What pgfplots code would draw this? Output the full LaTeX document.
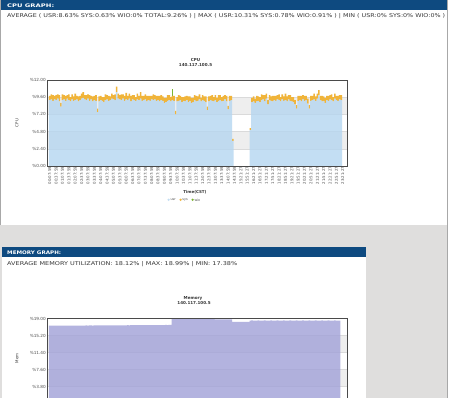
\documentclass[border=0pt]{standalone}
\usepackage{pgfplots}
\pgfplotsset{compat=1.18}
\usepackage{pgfplotstable}
\usepackage{fontspec}
\setmainfont{DejaVu Sans}
\usepackage{graphicx}

\definecolor{hdrblue}{HTML}{0E4A80}
\definecolor{pagegray}{HTML}{DFDEDD}
\definecolor{bordergray}{HTML}{A8A8A8}
\definecolor{txt}{HTML}{383838}
\definecolor{tickc}{HTML}{505050}
\definecolor{bandc}{HTML}{EEEEEE}
\definecolor{gridc}{HTML}{DADADA}
\definecolor{axframe}{HTML}{4A4A4A}
\definecolor{cpuusr}{HTML}{B5D6F0}
\definecolor{cpusys}{HTML}{F0B43A}
\definecolor{cpuwio}{HTML}{7DB532}
\definecolor{memc}{HTML}{A1A1D8}

\newcommand{\fs}[1]{\fontsize{#1}{#1}\selectfont}

\pgfplotsset{
  dotlegend/.style={legend image code/.code={\fill[##1] (0pt,0.9pt) circle (1.25pt);}},
}

\pgfplotstableread{
u s w
9.2 0.6 0
9.3 0.7 0
9.1 0.8 0
9.3 0.5 0
9.2 0.7 0
9.4 0.6 0
9.0 0.9 0
8.3 0.5 0
9.2 0.8 0
9.3 0.6 0
9.1 0.7 0
9.4 0.5 0
9.2 0.8 0
9.0 0.6 0
9.3 0.7 0
9.1 0.6 0
9.2 0.9 0
9.3 0.5 0
9.0 0.7 0
9.2 0.6 0
9.4 0.7 0
9.5 0.8 0
9.3 0.6 0
9.2 0.7 0
9.4 0.6 0
9.1 0.8 0
9.3 0.5 0
9.0 0.7 0
9.2 0.6 0
9.1 0.8 0
7.5 0.5 0
9.0 0.7 0
9.2 0.6 0
9.1 0.5 0
8.9 0.7 0
9.2 0.8 0
9.3 0.6 0
9.1 0.7 0
9.2 0.5 0
9.4 0.7 0
9.3 0.6 0
9.2 0.8 0
10.31 0.75 0
9.4 0.7 0
9.3 0.6 0
9.2 0.8 0
9.4 0.6 0
9.1 0.7 0
9.3 0.9 0
9.2 0.6 0
9.4 0.7 0
9.0 0.8 0
9.3 0.6 0
9.2 0.7 0
9.1 0.5 0
9.3 0.8 0
9.2 0.6 0
9.4 0.9 0
9.1 0.7 0
9.2 0.6 0
9.3 0.7 0
9.0 0.8 0
9.2 0.6 0
9.1 0.7 0
9.3 0.5 0
9.2 0.8 0
9.3 0.6 0
9.1 0.7 0
9.2 0.6 0
9.0 0.8 0
9.2 0.7 0
9.1 0.6 0
8.8 0.7 0
8.9 0.6 0
9.1 0.8 0
9.2 0.7 0
9.0 0.6 0
9.2 0.6 0.91
9.1 0.7 0
7.2 0.5 0
9.0 0.6 0
9.1 0.8 0
9.2 0.6 0
8.9 0.7 0
9.1 0.5 0
9.0 0.7 0
9.2 0.6 0
8.9 0.8 0
9.1 0.6 0
8.8 0.7 0
8.9 0.6 0
9.2 0.7 0
9.0 0.8 0
9.1 0.6 0
9.3 0.7 0
9.0 0.5 0
9.2 0.7 0
9.1 0.6 0
8.9 0.8 0
7.8 0.5 0
9.0 0.7 0
9.2 0.6 0
9.1 0.8 0
9.0 0.6 0
9.2 0.7 0
8.9 0.6 0
9.1 0.8 0
9.2 0.7 0
9.0 0.6 0
9.1 0.7 0
9.3 0.6 0
9.0 0.8 0
7.9 0.5 0
9.1 0.7 0
9.2 0.6 0
3.5 0.3 0
0 0 0
0 0 0
0 0 0
0 0 0
0 0 0
0 0 0
0 0 0
0 0 0
0 0 0
0 0 0
5.0 0.3 0
8.9 0.6 0
9.0 0.7 0
8.8 0.6 0
9.0 0.8 0
9.1 0.6 0
8.9 0.7 0
9.2 0.8 0
9.3 0.6 0
9.0 0.9 0
9.4 0.7 0
8.6 0.6 0
9.2 0.7 0
9.1 0.6 0
9.0 0.8 0
9.2 0.6 0
9.1 0.7 0
9.3 0.6 0
9.2 0.8 0
9.0 0.6 0
9.3 0.7 0
9.1 0.6 0
9.2 0.9 0
9.0 0.7 0
9.3 0.6 0
9.1 0.8 0
9.0 0.6 0
8.9 0.7 0
8.6 0.6 0
8.0 0.5 0
9.1 0.7 0
9.2 0.6 0
9.0 0.8 0
9.3 0.6 0
9.1 0.7 0
9.2 0.6 0
8.7 0.7 0
8.0 0.5 0
9.1 0.7 0
9.2 0.6 0
9.3 0.8 0
9.1 0.6 0
9.4 0.7 0
9.9 0.7 0
9.2 0.6 0
9.0 0.8 0
9.1 0.6 0
8.8 0.7 0
9.2 0.6 0
9.1 0.7 0
9.3 0.6 0
9.2 0.8 0
9.0 0.6 0
9.4 0.7 0
9.2 0.6 0
9.1 0.7 0
9.3 0.6 0
9.2 0.7 0
}\cpudata

\pgfplotstableread{
m
17.38
17.38
17.39
17.38
17.40
17.39
17.40
17.40
17.41
17.40
17.41
17.40
17.41
17.42
17.41
17.42
17.42
17.42
17.43
17.42
17.43
17.42
17.43
17.44
17.43
17.44
17.44
17.43
17.44
17.45
17.44
17.45
17.45
17.44
17.45
17.46
17.45
17.46
17.46
17.45
17.46
17.47
17.46
17.47
17.47
17.48
17.47
17.48
17.48
17.49
17.48
17.49
17.49
17.50
17.49
17.50
17.50
17.51
17.50
17.51
17.51
17.52
17.51
17.52
17.52
17.53
17.52
17.53
17.53
17.54
17.53
17.54
17.54
17.55
17.54
17.55
17.55
18.99
18.98
18.99
18.97
18.98
18.99
18.97
18.98
18.96
18.98
18.97
18.99
18.96
18.97
18.98
18.96
18.97
18.95
18.97
18.96
18.98
18.95
18.96
18.97
18.95
18.96
18.95
18.80
18.79
18.80
18.81
18.80
18.79
18.80
18.81
18.80
18.79
18.80
18.25
18.24
18.25
18.26
18.25
18.24
18.25
18.26
18.25
18.24
18.25
18.55
18.56
18.55
18.54
18.55
18.56
18.55
18.54
18.55
18.56
18.55
18.54
18.55
18.56
18.55
18.54
18.55
18.56
18.55
18.54
18.55
18.56
18.55
18.54
18.55
18.56
18.55
18.54
18.55
18.56
18.55
18.54
18.55
18.56
18.55
18.54
18.55
18.56
18.55
18.54
18.55
18.56
18.55
18.54
18.55
18.56
18.55
18.54
18.55
18.56
18.55
18.54
18.55
18.56
18.55
18.54
18.55
}\memdata

\begin{document}
\begin{tikzpicture}[x=1pt,y=1pt]
\fill[white] (0,0) rectangle (450,398);
% page gray
\fill[pagegray] (0,0) rectangle (447,173);
\draw[bordergray, line width=0.8pt] (0.4,173) -- (0.4,398);
\draw[bordergray, line width=1pt] (447.5,0) -- (447.5,398);
% CPU header
\fill[hdrblue] (0.8,387.5) rectangle (447,398);
\node[anchor=west, text=white, inner sep=0] at (7,392.7) {\resizebox{47pt}{3.6pt}{\bfseries CPU GRAPH:}};
\node[anchor=west, text=txt, inner sep=0] at (7,381.5) {\resizebox{438pt}{4pt}{AVERAGE ( USR:8.63\% SYS:0.63\% WIO:0\% TOTAL:9.26\% ) | MAX ( USR:10.31\% SYS:0.78\% WIO:0.91\% ) | MIN ( USR:0\% SYS:0\% WIO:0\% )}};
% CPU titles
\node[text=txt, inner sep=0, font=\bfseries\fs{4.1}] at (195.5,338) {CPU};
\node[text=txt, inner sep=0, font=\bfseries\fs{4.1}] at (195.5,332.5) {140.117.100.5};
% CPU bands
\fill[bandc] (47,249.2) rectangle (347,266.4);
\fill[bandc] (47,283.6) rectangle (347,300.8);

\begin{axis}[
  at={(47pt,232pt)}, anchor=south west,
  scale only axis, width=300pt, height=86pt,
  xmin=-1.755, xmax=186.64, ymin=0, ymax=12,
  ybar stacked, bar width=1,
  axis line style={axframe, line width=0.8pt},
  tick style={draw=none},
  ymajorgrids, grid style={gridc, line width=0.4pt},
  ytick={0,2.4,4.8,7.2,9.6,12},
  yticklabels={\%0.00,\%2.40,\%4.80,\%7.20,\%9.60,\%12.00},
  yticklabel style={font=\fs{4.2}, text=tickc, inner sep=1pt},
  xtick={0,4,...,184},
  xticklabels={00:07:59,00:37:59,01:07:59,01:37:59,02:07:59,02:37:59,03:07:59,03:37:59,04:07:59,04:37:59,05:07:59,05:37:59,06:07:59,06:37:59,07:07:59,07:37:59,08:07:59,08:37:59,09:07:59,09:37:59,10:07:59,10:37:59,11:07:59,11:37:59,12:07:59,12:37:59,13:07:59,13:37:59,14:07:59,14:37:59,15:21:27,15:51:27,16:21:27,16:51:27,17:21:27,17:51:27,18:21:27,18:51:27,19:21:27,19:51:27,20:21:27,20:51:27,21:21:27,21:51:27,22:21:27,22:51:27,23:21:27},
  xticklabel style={rotate=90, anchor=east, font=\fs{3.9}, text=tickc, inner sep=0.6pt},
  xlabel={Time(CST)},
  every axis x label/.style={at={(axis description cs:0.493,-0.30)}, anchor=center, font=\bfseries\fs{4}, text=txt},
  ylabel={CPU},
  every axis y label/.style={at={(axis description cs:-0.1,0.5)}, rotate=90, anchor=center, font=\fs{4}, text=txt},
  legend style={draw=none, fill=none, font=\fs{3.3}, text=tickc, legend columns=3,
    at={(0.457,-0.403)}, anchor=center, nodes={inner sep=0.6pt},
    /tikz/every even column/.append style={column sep=3pt}},
]
\addplot[fill=cpuusr, fill opacity=0.8, draw=none, dotlegend] table[x expr=\coordindex, y=u]{\cpudata};
\addlegendentry{usr}
\addplot[fill=cpusys, draw=none, dotlegend] table[x expr=\coordindex, y=s]{\cpudata};
\addlegendentry{sys}
\addplot[fill=cpuwio, draw=none, dotlegend] table[x expr=\coordindex, y=w]{\cpudata};
\addlegendentry{wio}
\end{axis}

% Memory section
\fill[white] (1.5,0) rectangle (366,151);
\fill[hdrblue] (1.5,140.5) rectangle (366,150.5);
\node[anchor=west, text=white, inner sep=0] at (7,145.6) {\resizebox{54pt}{3.6pt}{\bfseries MEMORY GRAPH:}};
\node[anchor=west, text=txt, inner sep=0] at (7,133.6) {\resizebox{230pt}{4pt}{AVERAGE MEMORY UTILIZATION: 18.12\% | MAX: 18.99\% | MIN: 17.38\%}};
\node[text=txt, inner sep=0, font=\bfseries\fs{4.1}] at (193,99.7) {Memory};
\node[text=txt, inner sep=0, font=\bfseries\fs{4.1}] at (194,94.5) {140.117.100.5};
% memory bands
\fill[bandc] (47,45.5) rectangle (347,62.5);
\fill[bandc] (47,11.5) rectangle (347,28.5);

\begin{axis}[
  at={(47pt,0pt)}, anchor=south west,
  scale only axis, width=300pt, height=79.5pt,
  xmin=-1.755, xmax=186.64, ymin=1.23, ymax=19,
  ybar, bar width=1, bar shift=0pt,
  axis line style={draw=none},
  tick style={draw=none},
  ymajorgrids, grid style={gridc, line width=0.4pt},
  ytick={3.8,7.6,11.4,15.2,19},
  yticklabels={\%3.80,\%7.60,\%11.40,\%15.20,\%19.00},
  yticklabel style={font=\fs{4.2}, text=tickc, inner sep=1pt},
  xtick=\empty,
  ylabel={Mem},
  every axis y label/.style={at={(axis description cs:-0.1,0.5)}, rotate=90, anchor=center, font=\fs{4}, text=txt},
]
\addplot[fill=memc, fill opacity=0.8, draw=none] table[x expr=\coordindex, y=m]{\memdata};
\end{axis}
\draw[axframe, line width=0.8pt] (47,0) -- (47,79.5) -- (347,79.5) -- (347,0);
\pgfresetboundingbox
\path[use as bounding box] (0,0) rectangle (450,398);
\end{tikzpicture}
\end{document}
